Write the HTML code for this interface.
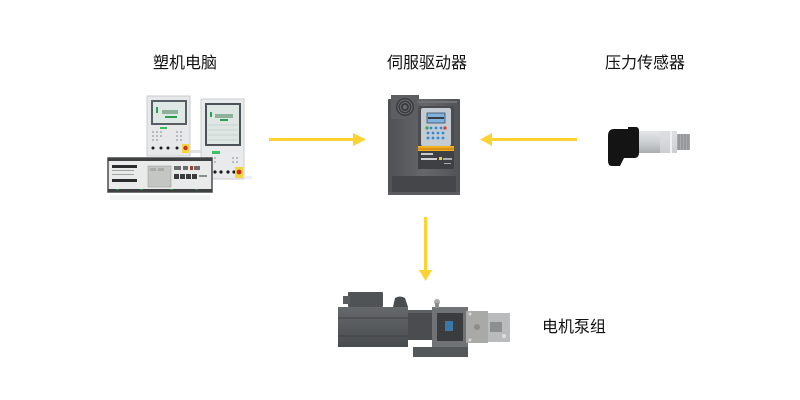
<!DOCTYPE html>
<html><head><meta charset="utf-8">
<style>
html,body{margin:0;padding:0;background:#fff;}
svg{display:block;}
text{font-family:"Liberation Sans","Noto Sans CJK SC",sans-serif;font-size:16px;fill:#111;}
</style></head>
<body>
<svg width="800" height="400" viewBox="0 0 800 400" xmlns="http://www.w3.org/2000/svg">
<defs>
<linearGradient id="silver" x1="0" y1="0" x2="0" y2="1">
<stop offset="0" stop-color="#e4e6e8"/><stop offset="0.5" stop-color="#cdd0d3"/><stop offset="1" stop-color="#a8acb0"/>
</linearGradient>
<linearGradient id="motor" x1="0" y1="0" x2="0" y2="1">
<stop offset="0" stop-color="#66696c"/><stop offset="1" stop-color="#484b4e"/>
</linearGradient>
<linearGradient id="drive" x1="0" y1="0" x2="1" y2="0">
<stop offset="0" stop-color="#4e5054"/><stop offset="0.5" stop-color="#65676b"/><stop offset="1" stop-color="#505256"/>
</linearGradient>
</defs>

<!-- Labels -->
<text x="153" y="68">塑机电脑</text>
<text x="387" y="68">伺服驱动器</text>
<text x="605" y="68">压力传感器</text>
<text x="542" y="332">电机泵组</text>

<!-- ===== Computer ===== -->
<rect x="185" y="150" width="20" height="3" fill="#e0e2e4"/>
<!-- Panel 1 -->
<rect x="147" y="96" width="43" height="60" fill="#e6e8ea" stroke="#c9cbcd" stroke-width="1"/>
<rect x="151" y="100" width="36" height="25" fill="#585e66"/>
<rect x="153" y="102" width="32" height="21" fill="#dfe8e4"/>
<rect x="156" y="107" width="2" height="6" fill="#2aa050"/>
<rect x="162" y="110" width="16" height="4" fill="#8fb09a"/>
<rect x="165" y="116" width="12" height="2" fill="#2aa050"/>
<rect x="160" y="127" width="7" height="2" fill="#3cc060"/>
<g fill="#b8bcc0">
<rect x="152" y="131" width="2" height="2"/><rect x="156" y="131" width="2" height="2"/><rect x="160" y="131" width="2" height="2"/><rect x="176" y="131" width="2" height="2"/><rect x="180" y="131" width="2" height="2"/>
<rect x="152" y="135" width="2" height="2"/><rect x="156" y="135" width="2" height="2"/><rect x="160" y="135" width="2" height="2"/><rect x="176" y="135" width="2" height="2"/><rect x="180" y="135" width="2" height="2"/>
<rect x="152" y="139" width="2" height="2"/><rect x="156" y="139" width="2" height="2"/><rect x="176" y="139" width="2" height="2"/><rect x="180" y="139" width="2" height="2"/>
</g>
<g fill="#1a1a1a">
<circle cx="153" cy="148" r="1.5"/><circle cx="161" cy="148" r="1.5"/><circle cx="168" cy="148" r="1.5"/><circle cx="177" cy="148" r="1.5"/>
</g>
<rect x="182" y="144" width="7" height="9" fill="#f2d640"/>
<circle cx="185.5" cy="148" r="2.2" fill="#d42a20"/>

<!-- Panel 2 -->
<rect x="201" y="99" width="43" height="80" fill="#e8eaec" stroke="#cbcdcf" stroke-width="1"/>
<rect x="205" y="103" width="36" height="43" fill="#4c525a"/>
<rect x="207" y="105" width="32" height="39" fill="#dde6e2"/>
<rect x="210" y="112" width="2" height="5" fill="#2aa050"/>
<rect x="215" y="114" width="18" height="4" fill="#8fb09a"/>
<rect x="220" y="119" width="8" height="2" fill="#2aa050"/>
<g stroke="#b9c2bf" stroke-width="0.6">
<line x1="208" y1="125" x2="238" y2="125"/><line x1="208" y1="130" x2="238" y2="130"/><line x1="208" y1="135" x2="238" y2="135"/><line x1="208" y1="140" x2="238" y2="140"/>
</g>
<rect x="212" y="151" width="8" height="3" fill="#3cc060"/>
<g fill="#b8bcc0">
<rect x="206" y="157" width="2" height="2"/><rect x="210" y="157" width="2" height="2"/><rect x="214" y="157" width="2" height="2"/><rect x="232" y="157" width="2" height="2"/><rect x="236" y="157" width="2" height="2"/>
<rect x="206" y="161" width="2" height="2"/><rect x="210" y="161" width="2" height="2"/><rect x="214" y="161" width="2" height="2"/><rect x="232" y="161" width="2" height="2"/><rect x="236" y="161" width="2" height="2"/>
</g>
<g fill="#1a1a1a">
<circle cx="215" cy="172" r="1.6"/><circle cx="221" cy="172" r="1.6"/><circle cx="228" cy="172" r="1.6"/><circle cx="234" cy="172" r="1.6"/>
</g>
<rect x="235" y="167" width="8" height="11" fill="#f2d640"/>
<circle cx="239" cy="172" r="2.4" fill="#d42a20"/>
<rect x="244" y="176" width="8" height="3" fill="#eceeef"/>

<!-- Box -->
<rect x="108" y="158" width="104" height="34" fill="#e9ebea" stroke="#4a4c4e" stroke-width="1.5"/>
<rect x="108" y="158" width="104" height="3" fill="#3e4042"/>
<rect x="108" y="189" width="104" height="3" fill="#3e4042"/>
<g fill="#2d8a40"><rect x="116" y="189" width="3" height="1"/><rect x="140" y="189" width="3" height="1"/><rect x="170" y="189" width="3" height="1"/><rect x="195" y="189" width="3" height="1"/></g>
<rect x="112" y="165" width="25" height="3" fill="#2a2c2e"/>
<rect x="112" y="170" width="22" height="1" fill="#a0a2a4"/>
<rect x="112" y="174" width="22" height="1" fill="#a0a2a4"/>
<rect x="112" y="179" width="25" height="3" fill="#2a2c2e"/>
<rect x="148" y="166" width="23" height="21" fill="#c2c7c3" stroke="#9a9e9c" stroke-width="0.6"/>
<rect x="150" y="168" width="6" height="3" fill="#a8aca8"/><rect x="158" y="168" width="6" height="3" fill="#a8aca8"/>
<rect x="174" y="166" width="7" height="4" fill="#6a6d70"/>
<rect x="183" y="166" width="5" height="4" fill="#6a6d70"/>
<rect x="190" y="166" width="3" height="4" fill="#aa3a30"/>
<rect x="194" y="166" width="6" height="4" fill="#6a6d70"/>
<rect x="174" y="174" width="5" height="5" fill="#3a3c3e"/><rect x="180" y="174" width="5" height="5" fill="#3a3c3e"/><rect x="186" y="174" width="5" height="5" fill="#3a3c3e"/><rect x="192" y="174" width="5" height="5" fill="#3a3c3e"/>
<rect x="199" y="175" width="8" height="2" fill="#8a8c8e"/>
<rect x="110" y="195" width="100" height="5" fill="#f3f4f4"/>

<!-- ===== Servo drive ===== -->
<rect x="388" y="99" width="72" height="96" fill="url(#drive)" rx="1"/>
<rect x="391" y="95" width="28" height="24" fill="#5c5e62"/>
<circle cx="405" cy="107" r="9" fill="#3a3c40"/>
<circle cx="405" cy="107" r="7" fill="none" stroke="#6c6e72" stroke-width="1"/>
<circle cx="405" cy="107" r="4.5" fill="none" stroke="#6c6e72" stroke-width="1"/>
<circle cx="405" cy="107" r="2" fill="#6c6e72"/>
<rect x="418" y="101" width="39" height="2" fill="#707276"/>
<rect x="418" y="106" width="36" height="41" fill="#4a4c50" rx="2"/>
<rect x="421" y="108" width="30" height="38" fill="#c4cbd2" rx="2"/>
<rect x="427" y="113" width="18" height="10" fill="#7fb2e0" stroke="#3a4a5a" stroke-width="0.8"/>
<g fill="#3a3c40"><rect x="428" y="117" width="16" height="2"/></g>
<circle cx="427" cy="128" r="1.6" fill="#3aa848"/><circle cx="445" cy="128" r="1.6" fill="#d83a30"/>
<g fill="#2e8ad8">
<circle cx="431" cy="128" r="1.4"/><circle cx="436" cy="128" r="1.4"/><circle cx="441" cy="128" r="1.4"/>
<circle cx="428" cy="133" r="1.4"/><circle cx="433" cy="133" r="1.4"/><circle cx="438" cy="133" r="1.4"/><circle cx="443" cy="133" r="1.4"/>
<circle cx="428" cy="138" r="1.4"/><circle cx="433" cy="138" r="1.4"/><circle cx="438" cy="138" r="1.4"/><circle cx="443" cy="138" r="1.4"/>
</g>
<rect x="418" y="146" width="36" height="5" fill="#f0b020"/>
<rect x="418" y="148" width="36" height="2" fill="#d89018"/>
<rect x="418" y="151" width="36" height="18" fill="#3e4044"/>
<rect x="421" y="153" width="12" height="2" fill="#c8cacc"/>
<rect x="421" y="158" width="16" height="2" fill="#d0d2d4"/>
<rect x="439" y="157" width="3" height="3" fill="#e8d040"/>
<rect x="443" y="158" width="9" height="2" fill="#a8aaac"/>
<rect x="444" y="163" width="7" height="1" fill="#a8aaac"/>
<rect x="392" y="176" width="64" height="16" fill="#44464a"/>
<rect x="388" y="192" width="72" height="3" fill="#5a5c60"/>

<!-- ===== Pressure sensor ===== -->
<rect x="676" y="134" width="14" height="16" fill="#a7a9ab"/>
<g stroke="#7c7e80" stroke-width="0.8">
<line x1="679" y1="134" x2="679" y2="150"/><line x1="682" y1="134" x2="682" y2="150"/><line x1="685" y1="134" x2="685" y2="150"/><line x1="688" y1="134" x2="688" y2="150"/>
</g>
<rect x="636" y="131" width="41" height="22" fill="url(#silver)"/>
<rect x="660" y="131" width="17" height="22" fill="#dadcde" opacity="0.7"/>
<rect x="670" y="131" width="2" height="22" fill="#f0f1f2"/>
<path d="M608,136 Q608,129 614,129 L628,129 L628,127 L636,127 Q639,127 639,131 L639,153 Q639,158 634,158 L624,158 L620,166 L612,166 Q608,166 608,161 Z" fill="#141414"/>

<!-- ===== Motor pump ===== -->
<rect x="348" y="292" width="35" height="15" fill="#505356" rx="1"/>
<rect x="343" y="296" width="7" height="8" fill="#5a5d60"/>
<path d="M393,307 L395,298 Q400,295 405,298 L408,307 Z" fill="#4a4d50"/>
<rect x="338" y="307" width="70" height="40" fill="url(#motor)"/>
<line x1="338" y1="318" x2="408" y2="318" stroke="#3a3c3e" stroke-width="0.8"/>
<line x1="338" y1="336" x2="408" y2="336" stroke="#3a3c3e" stroke-width="0.8"/>
<rect x="408" y="310" width="24" height="30" fill="#4a4c4f"/>
<rect x="408" y="310" width="24" height="3" fill="#5e6164"/>
<rect x="432" y="307" width="36" height="42" fill="#707376"/>
<rect x="437" y="313" width="26" height="28" fill="#3a3c3e"/>
<rect x="445" y="321" width="8" height="10" fill="#3a78a8"/>
<circle cx="437" cy="302" r="3" fill="#a8aaac"/>
<rect x="435" y="303" width="4" height="5" fill="#8a8c8e"/>
<rect x="413" y="347" width="55" height="10" fill="#55585b"/>
<rect x="466" y="311" width="22" height="32" fill="#a9aaa8"/>
<rect x="488" y="313" width="22" height="29" fill="#b9bbbc"/>
<rect x="490" y="322" width="12" height="10" fill="#8c8e90"/>
<circle cx="477" cy="327" r="3" fill="#8e8c88"/>
<circle cx="470" cy="314" r="1.5" fill="#d8d8d8"/><circle cx="470" cy="340" r="1.5" fill="#d8d8d8"/>
<circle cx="504" cy="336" r="2" fill="#dedede"/>

<!-- ===== Arrows ===== -->
<g fill="#FDD232" stroke="none">
<rect x="269" y="138" width="86" height="3"/>
<polygon points="353,133 366,139.5 353,146"/>
<rect x="490" y="138" width="87" height="3"/>
<polygon points="492,133 480,139.5 492,146"/>
<rect x="424" y="217" width="3" height="54"/>
<polygon points="419,270 432,270 425.5,281"/>
</g>
</svg>
</body></html>
